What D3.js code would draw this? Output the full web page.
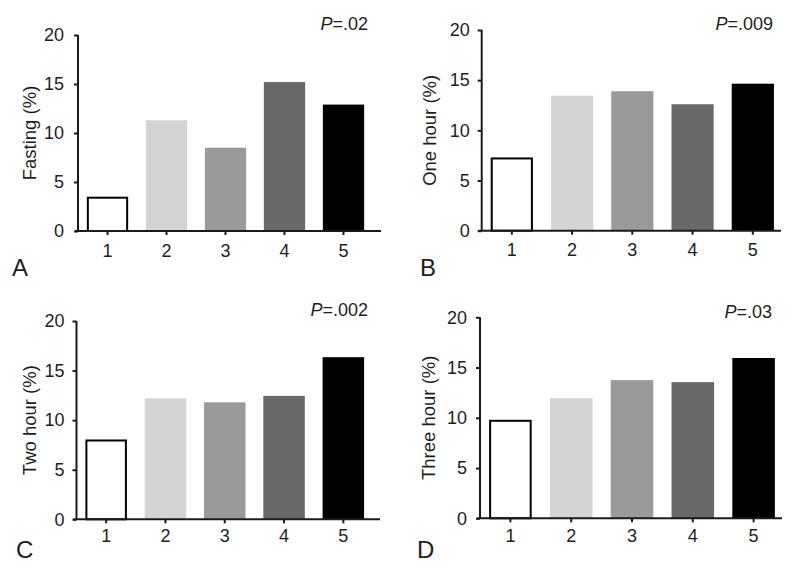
<!DOCTYPE html>
<html>
<head>
<meta charset="utf-8">
<script src="https://cdn.jsdelivr.net/npm/d3@7/dist/d3.min.js"></script>
<style>
  html, body { margin: 0; padding: 0; background: #fff; }
  svg { display: block; font-family: "Liberation Sans", Arial, sans-serif; }
</style>
</head>
<body>
<svg id="chart" width="800" height="575"></svg>
<script>
// ---- data ----
const categories = ["1", "2", "3", "4", "5"];
const fasting   = [3.5, 11.3, 8.5, 15.2, 12.9];
const oneHour   = [7.3, 13.45, 13.9, 12.6, 14.65];
const twoHour   = [8.05, 12.2, 11.8, 12.45, 16.35];
const threeHour = [9.8, 11.95, 13.75, 13.55, 15.95];
const yTicks = [0, 5, 10, 15, 20];
const yTitles = ["Fasting (%)", "One hour (%)", "Two hour (%)", "Three hour (%)"];
const pValues = [".02", ".009", ".002", ".03"];
const panelLetters = ["A", "B", "C", "D"];
const barColors = ["#ffffff", "#d4d4d4", "#9a9a9a", "#696969", "#000000"];

// ---- layout (positions only) ----
const layout = [
  { ax: 78,    y0: 231,   y20: 35,    step: 59,    axEnd: 381, titleX: 30,  pX: 368, pY: 30,  lX: 12,  lY: 276, tx: 14, xl: 26 },
  { ax: 481.7, y0: 230.7, y20: 30,    step: 60.25, axEnd: 781, titleX: 430, pX: 773, pY: 30,  lX: 420, lY: 276, tx: 12, xl: 26 },
  { ax: 76.5,  y0: 519.3, y20: 321,   step: 59.3,  axEnd: 380, titleX: 30,  pX: 368, pY: 316, lX: 16,  lY: 558, tx: 12, xl: 23 },
  { ax: 480,   y0: 518.3, y20: 317.3, step: 60.8,  axEnd: 782, titleX: 429, pX: 772, pY: 318, lX: 417, lY: 558, tx: 13, xl: 24 }
];
const series = [fasting, oneHour, twoHour, threeHour];

const svg = d3.select("#chart");
const ink = "#1a1a1a";
const txt = "#1e1e1e";

series.forEach((vals, i) => {
  const L = layout[i];
  const g = svg.append("g");
  const x = d3.scaleBand().domain(categories)
    .range([L.ax, L.ax + 5 * L.step]).paddingInner(0.3).paddingOuter(0.15);
  const y = d3.scaleLinear().domain([0, 20]).range([L.y0, L.y20]);

  // bars
  g.selectAll("rect.bar").data(vals).enter().append("rect")
    .attr("class", "bar")
    .attr("x", (d, j) => x(categories[j]) + (j === 0 ? 1 : 0))
    .attr("width", (d, j) => x.bandwidth() - (j === 0 ? 2 : 0))
    .attr("y", (d, j) => y(d) + (j === 0 ? 1 : 0))
    .attr("height", (d, j) => L.y0 - y(d) - (j === 0 ? 1 : 0))
    .attr("fill", (d, j) => barColors[j])
    .attr("stroke", (d, j) => j === 0 ? "#000" : "none")
    .attr("stroke-width", 2);

  // y axis
  const yAxis = d3.axisLeft(y).tickValues(yTicks).tickSize(4).tickPadding(L.tx - 4);
  const ya = g.append("g").attr("transform", `translate(${L.ax},0)`).call(yAxis);
  ya.select(".domain").attr("d", `M0,${L.y20}V${L.y0}`).attr("stroke", ink).attr("stroke-width", 2);
  ya.selectAll(".tick line").attr("stroke", ink).attr("stroke-width", 2);
  ya.selectAll(".tick text").attr("font-size", 18).attr("fill", txt)
    .attr("font-family", "'Liberation Sans', Arial, sans-serif");

  // x axis
  const xAxis = d3.axisBottom(x).tickSize(4).tickSizeOuter(0).tickPadding(L.xl - 17);
  const xa = g.append("g").attr("transform", `translate(0,${L.y0})`).call(xAxis);
  xa.select(".domain").attr("d", `M${L.ax - 3},0H${L.axEnd}`).attr("stroke", ink).attr("stroke-width", 2);
  xa.selectAll(".tick line").attr("stroke", ink).attr("stroke-width", 2);
  xa.selectAll(".tick text").attr("font-size", 18).attr("fill", txt)
    .attr("font-family", "'Liberation Sans', Arial, sans-serif");

  // y title
  g.append("text")
    .attr("transform", `translate(${L.titleX},${(L.y0 + L.y20) / 2}) rotate(-90)`)
    .attr("text-anchor", "middle").attr("dy", "0.35em")
    .attr("font-size", 18.5).attr("fill", txt)
    .text(yTitles[i]);

  // P value
  const pt = g.append("text").attr("x", L.pX).attr("y", L.pY)
    .attr("text-anchor", "end").attr("font-size", 18).attr("fill", txt);
  pt.append("tspan").attr("font-style", "italic").text("P");
  pt.append("tspan").text("=" + pValues[i]);

  // panel letter
  g.append("text").attr("x", L.lX).attr("y", L.lY)
    .attr("font-size", 24).attr("fill", txt).text(panelLetters[i]);
});
</script>
</body>
</html>
